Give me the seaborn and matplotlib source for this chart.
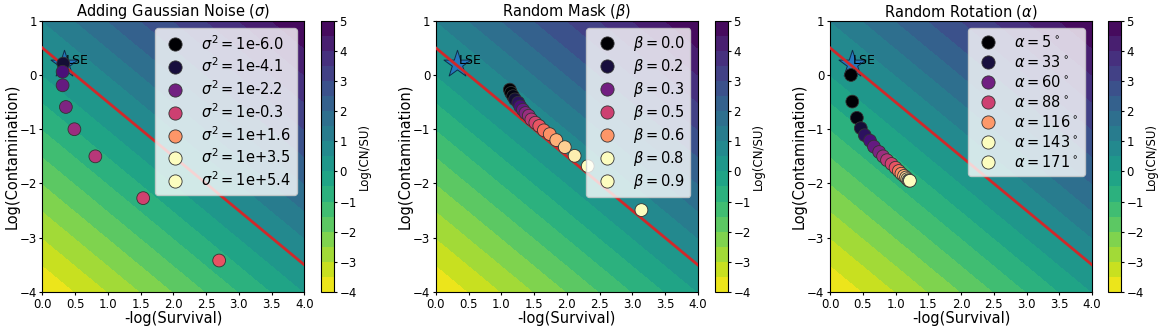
import numpy as np
import matplotlib
matplotlib.use("Agg")
import matplotlib.pyplot as plt
from matplotlib.lines import Line2D
import seaborn as sns

# fondo Log(CN/SU)
surv_grid = np.linspace(0, 4, 300)
cont_grid = np.linspace(-4, 1, 300)
cbar_levels = np.arange(-4, 5.01, 0.5)
cbar_ticks = [-4, -3, -2, -1, 0, 1, 2, 3, 4, 5]

# punto LSE y frontera
lse_x = [0.33]
lse_y = [0.20]
boundary_x = [0.0, 4.0]
boundary_y = [0.5, -3.5]

# ruido gaussiano (log10 sigma^2 de cada punto visible)
gauss_level = [-4.1, -2.8, -2.2, -1.6, -0.9, -0.3, 0.3, 0.9]
gauss_x = [0.32, 0.31, 0.31, 0.36, 0.49, 0.81, 1.54, 2.70]
gauss_y = [0.21, 0.06, -0.19, -0.59, -1.00, -1.50, -2.27, -3.42]
gauss_leg_level = [-6.0, -4.1, -2.2, -0.3, 1.6, 3.5, 5.4]
gauss_leg_exp = ["-6.0", "-4.1", "-2.2", "-0.3", "+1.6", "+3.5", "+5.4"]

# mascara aleatoria (beta)
mask_level = [0.00, 0.05, 0.10, 0.15, 0.20, 0.25, 0.30, 0.35, 0.40, 0.45,
              0.50, 0.55, 0.60, 0.65, 0.70, 0.75, 0.80, 0.85, 0.90, 0.95]
mask_x = [1.13, 1.15, 1.18, 1.21, 1.26, 1.29, 1.33, 1.37, 1.42, 1.46,
          1.52, 1.58, 1.65, 1.74, 1.84, 1.97, 2.12, 2.32, 2.63, 3.14]
mask_y = [-0.27, -0.33, -0.39, -0.45, -0.51, -0.58, -0.64, -0.70, -0.75, -0.82,
          -0.88, -0.94, -1.02, -1.09, -1.20, -1.33, -1.49, -1.68, -1.96, -2.49]
mask_leg_level = [0.0, 0.15, 0.3, 0.45, 0.6, 0.75, 0.9]
mask_leg_text = ["0.0", "0.2", "0.3", "0.5", "0.6", "0.8", "0.9"]

# rotacion aleatoria (alpha en grados)
rot_level = [5, 14, 23, 33, 42, 51, 60, 69, 79, 88,
             97, 106, 116, 125, 134, 143, 152, 162, 171, 180]
rot_x = [0.32, 0.34, 0.41, 0.47, 0.53, 0.61, 0.67, 0.75, 0.81, 0.87,
         0.94, 1.00, 1.05, 1.09, 1.13, 1.16, 1.18, 1.20, 1.21, 1.22]
rot_y = [0.00, -0.49, -0.79, -0.98, -1.11, -1.21, -1.32, -1.42, -1.50, -1.57,
         -1.64, -1.71, -1.77, -1.82, -1.86, -1.89, -1.92, -1.94, -1.95, -1.95]
rot_leg_level = [5, 33, 60, 88, 116, 143, 171]
rot_leg_text = ["5", "33", "60", "88", "116", "143", "171"]

paneles = [
    dict(title=r"Adding Gaussian Noise ($\sigma$)", x=gauss_x, y=gauss_y, lvl=gauss_level,
         leg_lvl=gauss_leg_level, leg=[r"$\sigma^2 = \mathrm{1e}$" + t for t in gauss_leg_exp],
         norm=(-5.05, 4.42), leg_norm=(-5.05, 3.5)),
    dict(title=r"Random Mask ($\beta$)", x=mask_x, y=mask_y, lvl=mask_level,
         leg_lvl=mask_leg_level, leg=[r"$\beta=" + t + "$" for t in mask_leg_text],
         norm=(0.075, 0.825), leg_norm=(0.075, 0.75)),
    dict(title=r"Random Rotation ($\alpha$)", x=rot_x, y=rot_y, lvl=rot_level,
         leg_lvl=rot_leg_level, leg=[r"$\alpha=" + t + r"^\circ$" for t in rot_leg_text],
         norm=(18.8, 157.0), leg_norm=(18.8, 143.0)),
]

fig = plt.figure(figsize=(11.62, 3.28), dpi=100)
SX, SY = np.meshgrid(surv_grid, cont_grid)
ZZ = SX + SY
cmap_pts = plt.get_cmap("magma")

ax_left = [0.0364, 0.375, 0.7143]
cb_left = [0.2762, 0.6153, 0.9535]

for i, p in enumerate(paneles):
    ax = fig.add_axes([ax_left[i], 0.1098, 0.2255, 0.827])
    cax = fig.add_axes([cb_left[i], 0.1098, 0.0112, 0.827])
    cf = ax.contourf(SX, SY, ZZ, levels=cbar_levels, cmap="viridis_r")
    cb = fig.colorbar(cf, cax=cax, ticks=cbar_ticks)
    cb.set_label("Log(CN/SU)", fontsize=8.5, labelpad=1)
    cax.tick_params(labelsize=8.5, length=2.5, pad=1.5)

    ax.scatter(lse_x, lse_y, marker="*", s=420, color="#2477bd", edgecolor="#0f2d4a",
               linewidth=0.7, zorder=3)
    ax.annotate("LSE", (lse_x[0], lse_y[0]), xytext=(1, 0), textcoords="offset points",
                fontsize=9, zorder=3)
    sns.lineplot(x=boundary_x, y=boundary_y, color="#d0282a", lw=2, ax=ax, zorder=4)

    norm = plt.Normalize(*p["norm"])
    sns.scatterplot(x=p["x"], y=p["y"], hue=p["lvl"], palette="magma", hue_norm=norm,
                    s=85, edgecolor="#333333", linewidth=0.6, legend=False, ax=ax, zorder=5)

    leg_norm = plt.Normalize(*p["leg_norm"])
    handles = [Line2D([], [], ls="", marker="o", markersize=9.5,
                      markerfacecolor=cmap_pts(leg_norm(v)), markeredgecolor="#333333",
                      markeredgewidth=0.6) for v in p["leg_lvl"]]
    ax.legend(handles, p["leg"], loc="upper right", fontsize=10.5, labelspacing=0.28)

    ax.set_xlim(0, 4)
    ax.set_ylim(-4, 1)
    ax.set_xticks([0, 0.5, 1, 1.5, 2, 2.5, 3, 3.5, 4])
    ax.tick_params(labelsize=8.5, length=2.5, pad=1.5)
    ax.set_title(p["title"], fontsize=10.5, pad=3)
    ax.set_xlabel("-log(Survival)", fontsize=10.5, labelpad=0)
    ax.set_ylabel("Log(Contamination)", fontsize=10.5, labelpad=0)

plt.savefig("out.png", dpi=100)
